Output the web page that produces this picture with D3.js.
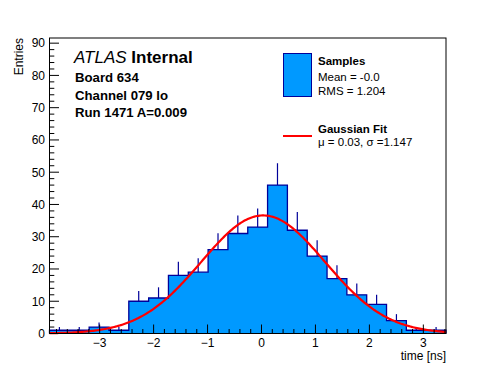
<!DOCTYPE html>
<html>
<head>
<meta charset="utf-8">
<script src="https://cdn.jsdelivr.net/npm/d3@7"></script>
<style>
  body { margin: 0; background: #fff; }
  svg { font-family: "Liberation Sans", Arial, sans-serif; display: block; }
</style>
</head>
<body>
<div id="chart"></div>
<script>
// histogram: 20 equal bins over the x range
const xRange = [-3.93, 3.42];
const counts = [1, 1, 2, 1, 10, 11, 18, 19, 26, 31, 33, 46, 32, 24, 17, 12, 9, 4, 1, 1];
// gaussian fit parameters (amplitude, mean, sigma)
const fitParams = [36.6, 0.03, 1.147];
const xTicks = [-3, -2, -1, 0, 1, 2, 3];
const yTicks = [0, 10, 20, 30, 40, 50, 60, 70, 80, 90];
const infoLines = ["Board 634", "Channel 079 lo", "Run 1471 A=0.009"];
const legendSamples = ["Mean = -0.0", "RMS = 1.204"];
const legendFit = "\u03bc = 0.03, \u03c3 =1.147";

const width = 496, height = 372;
const m = {left: 49.5, right: 446, top: 38, bottom: 333.5};

const svg = d3.select("#chart").append("svg")
  .attr("width", width).attr("height", height);

svg.append("rect").attr("width", width).attr("height", height).attr("fill", "#fff");

const x = d3.scaleLinear().domain(xRange).range([m.left, m.right]);
const y = d3.scaleLinear().domain([0, 91.6]).range([m.bottom, m.top]);

const nb = counts.length;
const bw = (xRange[1] - xRange[0]) / nb;
const bins = counts.map((c, i) => ({x0: xRange[0] + i * bw, x1: xRange[0] + (i + 1) * bw, v: c}));

const blue = "#0099ff", navy = "#000099";

// error bars (upper half visible above the bar)
svg.append("g").selectAll("line")
  .data(bins)
  .join("line")
    .attr("x1", d => x((d.x0 + d.x1) / 2))
    .attr("x2", d => x((d.x0 + d.x1) / 2))
    .attr("y1", d => y(d.v))
    .attr("y2", d => y(d.v + Math.sqrt(d.v)))
    .attr("stroke", navy)
    .attr("stroke-width", 1.2);

// step outline points
const pts = [[bins[0].x0, 0]];
bins.forEach(b => { pts.push([b.x0, b.v]); pts.push([b.x1, b.v]); });
pts.push([bins[nb - 1].x1, 0]);
const stepLine = d3.line().x(d => x(d[0])).y(d => y(d[1]));

// fill as one shape (no seams between bins)
svg.append("path")
  .attr("d", stepLine(pts) + "Z")
  .attr("fill", blue);

svg.append("path")
  .attr("d", stepLine(pts))
  .attr("fill", "none")
  .attr("stroke", navy)
  .attr("stroke-width", 1.3);

// gaussian fit curve
const [A, mu, sig] = fitParams;
const gauss = t => A * Math.exp(-0.5 * ((t - mu) / sig) ** 2);
const fx = d3.range(0, 301).map(i => xRange[0] + i * (xRange[1] - xRange[0]) / 300);
svg.append("path")
  .attr("d", d3.line().x(t => x(t)).y(t => y(gauss(t)))(fx))
  .attr("fill", "none")
  .attr("stroke", "#ff0000")
  .attr("stroke-width", 2.2);

// frame
svg.append("rect")
  .attr("x", m.left).attr("y", m.top)
  .attr("width", m.right - m.left).attr("height", m.bottom - m.top)
  .attr("fill", "none").attr("stroke", "#000").attr("stroke-width", 1);

// x axis ticks
const xMinor = d3.range(-39, 35).map(i => i / 10).filter(v => Math.abs(v * 5 - Math.round(v * 5)) < 1e-6 && v >= xRange[0] && v <= xRange[1]);
const gx = svg.append("g").attr("stroke", "#000");
xMinor.forEach(v => {
  const major = Math.abs(v - Math.round(v)) < 1e-6;
  gx.append("line")
    .attr("x1", x(v)).attr("x2", x(v))
    .attr("y1", m.bottom).attr("y2", m.bottom - (major ? 9 : 4.5));
});
svg.append("g").selectAll("text")
  .data(xTicks)
  .join("text")
    .attr("x", d => x(d))
    .attr("y", 347)
    .attr("text-anchor", "middle")
    .attr("font-size", 12)
    .text(d => d < 0 ? "\u2212" + Math.abs(d) : d);

svg.append("text")
  .attr("x", m.right).attr("y", 360)
  .attr("text-anchor", "end")
  .attr("font-size", 12)
  .text("time [ns]");

// y axis ticks
const gy = svg.append("g").attr("stroke", "#000");
d3.range(0, 92, 2).forEach(v => {
  const major = v % 10 === 0;
  gy.append("line")
    .attr("x1", m.left).attr("x2", m.left + (major ? 9.5 : 4.8))
    .attr("y1", y(v)).attr("y2", y(v));
});
svg.append("g").selectAll("text")
  .data(yTicks)
  .join("text")
    .attr("x", 45)
    .attr("y", d => y(d) + 4.3)
    .attr("text-anchor", "end")
    .attr("font-size", 12)
    .text(d => d);

svg.append("text")
  .attr("transform", `translate(23,${m.top}) rotate(-90)`)
  .attr("text-anchor", "end")
  .attr("font-size", 12)
  .text("Entries");

// ATLAS label
const atl = svg.append("text").attr("x", 74).attr("y", 63).attr("font-size", 17);
atl.append("tspan").attr("font-style", "italic").text("ATLAS");
atl.append("tspan").attr("font-weight", "bold").text(" Internal");

svg.append("g").selectAll("text")
  .data(infoLines)
  .join("text")
    .attr("x", 75)
    .attr("y", (d, i) => 82 + i * 17.5)
    .attr("font-size", 13.2)
    .attr("font-weight", "bold")
    .text(d => d);

// legend
svg.append("rect")
  .attr("x", 283.5).attr("y", 53.5).attr("width", 28).attr("height", 43)
  .attr("fill", blue).attr("stroke", navy).attr("stroke-width", 1);
svg.append("text").attr("x", 318).attr("y", 65)
  .attr("font-size", 11.5).attr("font-weight", "bold").text("Samples");
legendSamples.forEach((t, i) => {
  svg.append("text").attr("x", 318).attr("y", 80.5 + i * 14)
    .attr("font-size", 11.5).text(t);
});
svg.append("line")
  .attr("x1", 283).attr("x2", 312).attr("y1", 136).attr("y2", 136)
  .attr("stroke", "#ff0000").attr("stroke-width", 2);
svg.append("text").attr("x", 318).attr("y", 133)
  .attr("font-size", 11.5).attr("font-weight", "bold").text("Gaussian Fit");
svg.append("text").attr("x", 318).attr("y", 146)
  .attr("font-size", 11.5).text(legendFit);
</script>
</body>
</html>
